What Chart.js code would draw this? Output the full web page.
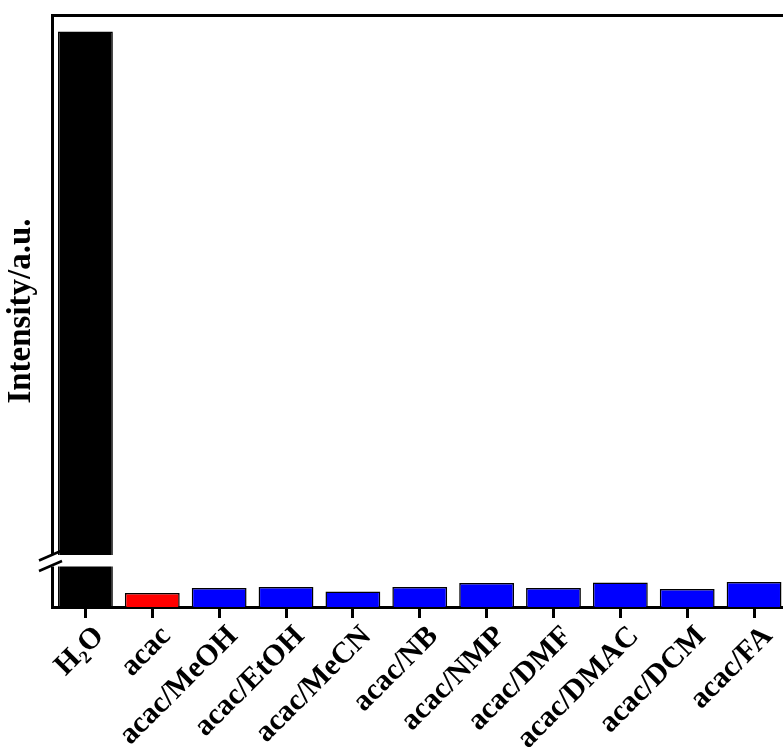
<!DOCTYPE html>
<html>
<head>
<meta charset="utf-8">
<script src="https://cdn.jsdelivr.net/npm/chart.js@4/dist/chart.umd.min.js"></script>
<style>
  html, body { margin: 0; padding: 0; background: #fff; overflow: hidden; width: 783px; height: 747px; }
  canvas { display: block; }
</style>
</head>
<body>
<canvas id="chart" width="800" height="747"></canvas>
<script>
// Emission intensity of the probe in water, neat acac and acac/solvent mixtures (a.u.)
const categories = ['H\u2082O', 'acac', 'acac/MeOH', 'acac/EtOH', 'acac/MeCN', 'acac/NB',
                    'acac/NMP', 'acac/DMF', 'acac/DMAC', 'acac/DCM', 'acac/FA'];
const intensity = [1000, 14, 19, 20, 15.5, 20, 24, 19, 24.5, 18, 25];

// Broken value axis: lower segment and upper segment ranges
const lowerRange = [0, 46];
const upperRange = [200, 1025];

const FONT = 'Liberation Serif, Times New Roman, serif';

function barColor(i) {
  if (i === 0) return '#000000';
  if (i === 1) return '#ff0000';
  return '#0000ff';
}

// Values that only reach the upper segment of the broken axis
const upperValues = intensity.map(v => (v > lowerRange[1] ? v : null));

// White gap and slash marks where the value axis is broken
const axisBreak = {
  id: 'axisBreak',
  afterDatasetsDraw(chart) {
    const { ctx, chartArea } = chart;
    const yb = chart.scales.yLow.top;
    const bar = chart.getDatasetMeta(1).data[0];
    const x0 = chartArea.left - 5;
    const x1 = bar.x + bar.width / 2 + 1;
    ctx.save();
    ctx.fillStyle = '#ffffff';
    ctx.fillRect(x0, yb - 6, x1 - x0, 11.5);
    ctx.strokeStyle = '#000000';
    ctx.lineWidth = 2.5;
    const ax = chartArea.left;
    [yb - 5.5, yb + 5].forEach(y => {
      ctx.beginPath();
      ctx.moveTo(ax - 13, y + 5);
      ctx.lineTo(ax + 10, y - 5);
      ctx.stroke();
    });
    ctx.restore();
  }
};

new Chart(document.getElementById('chart'), {
  type: 'bar',
  data: {
    labels: categories,
    datasets: [
      {
        label: 'lower',
        data: intensity,
        yAxisID: 'yLow',
        grouped: false,
        backgroundColor: ctx => barColor(ctx.dataIndex),
        borderColor: '#000000',
        borderWidth: 1.5,
        categoryPercentage: 1,
        barPercentage: 0.82
      },
      {
        label: 'upper',
        data: upperValues,
        yAxisID: 'yHigh',
        grouped: false,
        backgroundColor: ctx => barColor(ctx.dataIndex),
        borderColor: '#000000',
        borderWidth: 1.5,
        categoryPercentage: 1,
        barPercentage: 0.82
      }
    ]
  },
  options: {
    responsive: false,
    animation: false,
    devicePixelRatio: 1,
    layout: { padding: { left: 0, top: 0, right: 12.5, bottom: 0 } },
    plugins: {
      legend: { display: false },
      tooltip: { enabled: false }
    },
    scales: {
      x: {
        type: 'category',
        position: 'bottom',
        offset: true,
        afterFit: s => { s.height = 140; },
        border: { display: true, color: '#000', width: 3 },
        grid: {
          display: true,
          offset: false,
          drawOnChartArea: false,
          drawTicks: true,
          tickLength: 11,
          tickWidth: 3,
          tickColor: '#000'
        },
        ticks: {
          autoSkip: false,
          maxRotation: 45,
          minRotation: 45,
          padding: 1,
          labelOffset: 14,
          color: '#000',
          font: { family: FONT, size: 30, weight: 'bold' }
        }
      },
      xTop: {
        type: 'category',
        position: 'top',
        afterFit: s => { s.height = 15; },
        border: { display: true, color: '#000', width: 3 },
        grid: { display: false },
        ticks: { display: false }
      },
      yLow: {
        type: 'linear',
        position: 'left',
        stack: 'value',
        stackWeight: 46,
        min: lowerRange[0],
        max: lowerRange[1],
        afterFit: s => { s.width = 12; },
        border: { display: true, color: '#000', width: 3 },
        grid: { display: false },
        ticks: { display: false }
      },
      yHigh: {
        type: 'linear',
        position: 'left',
        stack: 'value',
        stackWeight: 546,
        min: upperRange[0],
        max: upperRange[1],
        afterFit: s => { s.width = 12; },
        border: { display: true, color: '#000', width: 3 },
        grid: { display: false },
        ticks: { display: false }
      },
      yTitle: {
        type: 'linear',
        position: 'left',
        min: 0,
        max: 1,
        afterFit: s => { s.width = 40; },
        border: { display: false },
        grid: { display: false },
        ticks: { display: false },
        title: {
          display: true,
          text: 'Intensity/a.u.',
          color: '#000',
          padding: { top: 2, bottom: 0 },
          font: { family: FONT, size: 33, weight: 'bold' }
        }
      }
    }
  },
  plugins: [axisBreak]
});
</script>
</body>
</html>
